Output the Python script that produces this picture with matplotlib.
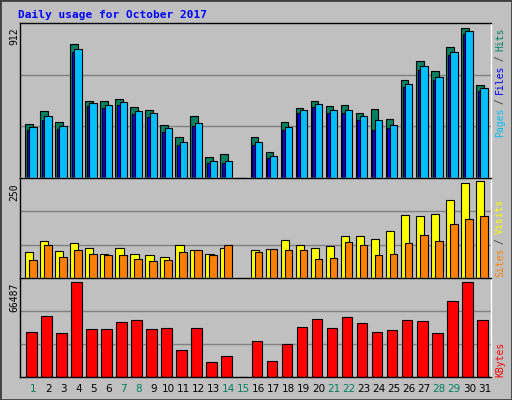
import matplotlib
matplotlib.use("Agg")
import matplotlib.pyplot as plt
from matplotlib.patches import Rectangle

days = list(range(1, 32))
weekend = [1, 7, 8, 14, 15, 21, 22, 28, 29]

# values (day 15 has no data)
hits = [330, 406, 342, 815, 468, 468, 479, 429, 413, 324, 250, 373, 128, 144, 0,
        250, 157, 342, 423, 468, 435, 441, 392, 417, 355, 596, 708, 646, 794, 912, 565]
files = [309, 373, 318, 782, 454, 444, 460, 406, 392, 301, 219, 336, 103, 101, 0,
         219, 132, 311, 411, 448, 411, 411, 373, 349, 324, 571, 677, 615, 763, 893, 547]
pages = [289, 353, 298, 762, 434, 424, 440, 386, 372, 281, 199, 316, 93, 91, 0,
         199, 122, 291, 391, 428, 391, 391, 353, 289, 304, 551, 657, 595, 743, 873, 527]
visits = [66, 94, 69, 90, 77, 63, 77, 63, 60, 55, 85, 71, 63, 77, 0,
          71, 74, 98, 85, 77, 82, 109, 109, 101, 120, 163, 160, 166, 201, 244, 250]
sites = [47, 85, 55, 71, 63, 58, 60, 50, 44, 47, 66, 71, 60, 85, 0,
         66, 74, 71, 71, 50, 52, 93, 85, 58, 63, 90, 112, 96, 139, 152, 160]
kbytes = [31500, 42500, 30800, 66487, 33700, 33700, 38100, 39500, 33700, 34400, 19200, 34400, 10400, 14800, 0,
          25000, 11200, 22800, 35200, 40300, 34400, 41700, 37400, 31500, 33000, 39500, 38800, 30800, 53400, 66487, 39500]

W, H = 512, 400
BG = "#C0C0C0"
fig = plt.figure(figsize=(W / 100, H / 100), dpi=100, facecolor=BG)
fig.patches.append(Rectangle((0, 0), 1, 1, transform=fig.transFigure, fill=False,
                             edgecolor="#404040", linewidth=2))


def axes_px(x0, y0, x1, y1):
    return fig.add_axes([x0 / W, 1 - y1 / H, (x1 - x0) / W, (y1 - y0) / H])


def setup(ax, ymax):
    ax.set_facecolor(BG)
    ax.set_xlim(0.111, 31.447)
    ax.set_ylim(0, ymax)
    ax.set_xticks([])
    ax.set_yticks([])
    for s in ax.spines.values():
        s.set_color("black")
        s.set_linewidth(1)
    ax.spines["right"].set_color("white")
    ax.spines["bottom"].set_color("white")
    for f in (1 / 3, 2 / 3):
        ax.axhline(ymax * f, color="#808080", linewidth=1, zorder=0)


kw = dict(align="edge", edgecolor="black", linewidth=0.8)

ax1 = axes_px(20, 23, 491, 178)
setup(ax1, 912 * 1.03)
ax1.bar([d - 0.553 for d in days], hits, width=0.51, color="#008060", **kw)
ax1.bar([d - 0.44 for d in days], pages, width=0.5, color="#0000FF", **kw)
ax1.bar([d - 0.267 for d in days], files, width=0.49, color="#00BFFF", **kw)

ax2 = axes_px(20, 178, 491, 278)
setup(ax2, 250 * 1.03)
ax2.bar([d - 0.553 for d in days], visits, width=0.55, color="#FFFF00", **kw)
ax2.bar([d - 0.287 for d in days], sites, width=0.51, color="#FF8000", **kw)

ax3 = axes_px(20, 278, 491, 377)
setup(ax3, 66487 * 1.04)
ax3.bar([d - 0.487 for d in days], kbytes, width=0.71, color="#FF0000", **kw)
ax3.spines["bottom"].set_color("black")

mono = "DejaVu Sans Mono"
fig.text(18 / W, 1 - 15 / H, "Daily usage for October 2017", color="#0000FF",
         family=mono, weight="bold", fontsize=8, va="center")

for y, txt in [(27, "912"), (183, "250"), (283, "66487")]:
    fig.text(14 / W, 1 - y / H, txt, rotation=90, ha="center", va="top",
             family=mono, fontsize=7)


def vlabel(ybottom, parts):
    pos = ybottom
    for txt, col in parts:
        fig.text(500 / W, 1 - pos / H, txt, rotation=90, rotation_mode="anchor",
                 ha="left", va="center", color=col, family=mono, fontsize=7)
        pos -= 5.4 * len(txt)


vlabel(137, [("Pages", "#00BFFF"), (" / ", "#404040"), ("Files", "#0000FF"),
             (" / ", "#404040"), ("Hits", "#008060")])
vlabel(277, [("Sites", "#FF8000"), (" / ", "#404040"), ("Visits", "#FFFF00")])
vlabel(377, [("KBytes", "#FF0000")])

for d in days:
    col = "#008060" if d in weekend else "black"
    ax3.text(d, -0.12, str(d), color=col, transform=ax3.get_xaxis_transform(),
             ha="center", va="center", fontsize=7.5)

fig.savefig("out.png", dpi=100, facecolor=BG)
